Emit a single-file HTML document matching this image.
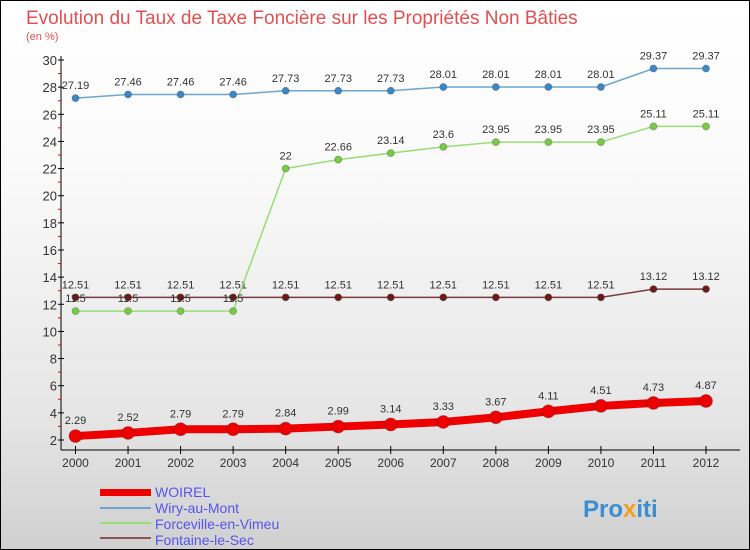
<!DOCTYPE html>
<html><head><meta charset="utf-8"><style>
body{margin:0}
#c{width:750px;height:550px;position:relative;background:linear-gradient(#fff,#fafafa 30%,#e6e6e6 75%,#d0d0d0);font-family:"Liberation Sans",sans-serif;overflow:hidden;box-sizing:border-box;border:1px solid #000}
</style></head><body>
<div id="c">
<svg id="s" width="750" height="550" style="position:absolute;left:-1px;top:-1px">
<text x="26" y="24" font-size="19" fill="#e05050">Evolution du Taux de Taxe Foncière sur les Propriétés Non Bâties</text>
<text x="26" y="40" font-size="11" fill="#e05050">(en %)</text>
<g id="axes"></g><g id="series"></g>
<g>
<rect x="100" y="489" width="51" height="7" fill="#e00"/>
<text x="155" y="497" font-size="14" fill="#5555ee">WOIREL</text>
<rect x="100" y="507" width="51" height="2" fill="#6fa5cc"/>
<text x="155" y="513" font-size="14" fill="#5555ee">Wiry-au-Mont</text>
<rect x="100" y="522" width="51" height="2" fill="#99dd77"/>
<text x="155" y="529" font-size="14" fill="#5555ee">Forceville-en-Vimeu</text>
<rect x="100" y="537" width="51" height="2" fill="#8b5555"/>
<text x="155" y="545" font-size="14" fill="#5555ee">Fontaine-le-Sec</text>
</g>
<text x="583" y="517" font-size="24" font-weight="bold" fill="#3a8fd0">Pro<tspan fill="#f0a020">x</tspan>iti</text>
</svg></div>
<script>
const years=[2000,2001,2002,2003,2004,2005,2006,2007,2008,2009,2010,2011,2012];
const woirel=[2.29,2.52,2.79,2.79,2.84,2.99,3.14,3.33,3.67,4.11,4.51,4.73,4.87];
const wiry=[27.19,27.46,27.46,27.46,27.73,27.73,27.73,28.01,28.01,28.01,28.01,29.37,29.37];
const forceville=[11.5,11.5,11.5,11.5,22,22.66,23.14,23.6,23.95,23.95,23.95,25.11,25.11];
const fontaine=[12.51,12.51,12.51,12.51,12.51,12.51,12.51,12.51,12.51,12.51,12.51,13.12,13.12];
const yTicks=[2,4,6,8,10,12,14,16,18,20,22,24,26,28,30];
const NS="http://www.w3.org/2000/svg";
const X=i=>75.5+i*(706-75.5)/(years.length-1);
const Y=v=>440-(v-2)*380/28;
function mk(t,a,p){const e=document.createElementNS(NS,t);for(const k in a)e.setAttribute(k,a[k]);p.appendChild(e);return e;}
const ax=document.getElementById('axes');
let e=mk('line',{x1:61,y1:56,x2:61,y2:450,stroke:'#000'},ax);


e=mk('line',{x1:61,y1:450,x2:740,y2:450,stroke:'#000'},ax);


yTicks.forEach((v,k)=>{
 mk('line',{x1:58,y1:Y(v),x2:64,y2:Y(v),stroke:'#000'},ax);
 if(k<yTicks.length-1) mk('line',{x1:58,y1:Y(v+1),x2:61,y2:Y(v+1),stroke:'#e00'},ax);
 const t=mk('text',{x:57,y:Y(v)+5,'font-size':13,'text-anchor':'end',fill:'#333'},ax);t.textContent=v;
 
 
});
years.forEach((y,i)=>{
 mk('line',{x1:X(i),y1:446,x2:X(i),y2:454,stroke:'#000'},ax);
 const t=mk('text',{x:X(i),y:467,'font-size':12,'text-anchor':'middle',fill:'#333'},ax);t.textContent=y;
 
 
});
const sg=document.getElementById('series');
function series(name,data,color,w,r,dot,labelDy){
 const g=mk('g',{},sg);
 
 
 const pl=mk('polyline',{points:data.map((v,i)=>X(i)+','+Y(v)).join(' '),fill:'none',stroke:color,'stroke-width':w},g);
 
 
 data.forEach((v,i)=>{
  const c=mk('circle',{cx:X(i),cy:Y(v),r:r,fill:dot,stroke:'#333','stroke-opacity':0.3},g);
  
  
  const t=mk('text',{x:X(i),y:Y(v)+labelDy,'font-size':11,'text-anchor':'middle',fill:'#333'},g);t.textContent=v;
  
  
 });
}
series('fontaine',fontaine,'#7a3a3a',1.5,3.5,'#6b1a1a',-9);
series('forceville',forceville,'#99dd77',1.5,3.5,'#77cc44',-9);
series('wiry',wiry,'#6fa5cc',1.5,3.5,'#3a88c8',-9);
series('woirel',woirel,'#e00',8,6.5,'#e00',-12);
</script>
</body></html>
